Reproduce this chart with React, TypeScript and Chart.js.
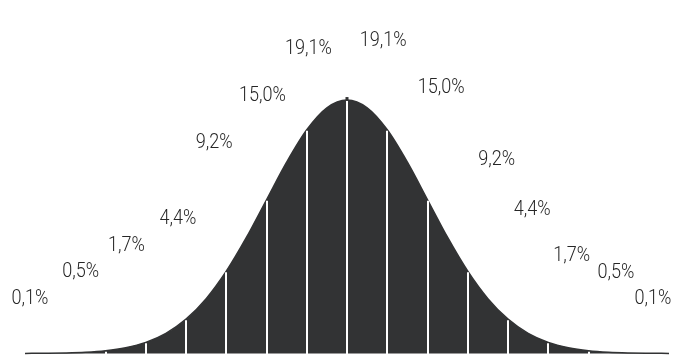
import React, { useEffect, useRef } from "react";
import { Chart, registerables } from "chart.js";

Chart.register(...registerables);

// Curve readings: position in standard deviations and curve height (density x100)
const sigmaPoints = [-4, -3.75, -3.5, -3.25, -3, -2.75, -2.5, -2.25, -2, -1.75, -1.5, -1.25, -1, -0.75, -0.5, -0.25, 0,
  0.25, 0.5, 0.75, 1, 1.25, 1.5, 1.75, 2, 2.25, 2.5, 2.75, 3, 3.25, 3.5, 3.75, 4];
const curveHeights = [0.01, 0.04, 0.09, 0.2, 0.44, 0.91, 1.75, 3.17, 5.4, 8.63, 12.95, 18.26, 24.2, 30.11, 35.21, 38.67, 39.89,
  38.67, 35.21, 30.11, 24.2, 18.26, 12.95, 8.63, 5.4, 3.17, 1.75, 0.91, 0.44, 0.2, 0.09, 0.04, 0.01];

// Band dividers (in standard deviations)
const dividerSigmas = [-3.5, -3, -2.5, -2, -1.5, -1, -0.5, 0, 0.5, 1, 1.5, 2, 2.5, 3, 3.5];

// Band share labels and their anchor points (sigma, height units)
const bandLabels = ["0,1%", "0,5%", "1,7%", "4,4%", "9,2%", "15,0%", "19,1%", "19,1%", "15,0%", "9,2%", "4,4%", "1,7%", "0,5%", "0,1%"];
const labelSigma = [-3.94, -3.31, -2.74, -2.1, -1.65, -1.05, -0.48, 0.45, 1.17, 1.86, 2.3, 2.79, 3.34, 3.8];
const labelHeight = [8.6, 12.9, 17.0, 21.2, 33.2, 40.6, 48.0, 49.3, 41.9, 30.5, 22.6, 15.4, 12.7, 8.6];

const FILL = "#323334";

export default function App() {
  const ref = useRef<HTMLCanvasElement>(null);

  useEffect(() => {
    if (!ref.current) return;
    const overlay = {
      id: "overlay",
      afterDatasetsDraw(chart: any) {
        const { ctx, scales } = chart;
        const xs = scales.x;
        const ys = scales.y;
        ctx.save();
        // white dividers
        ctx.strokeStyle = "#ffffff";
        ctx.lineWidth = 2;
        dividerSigmas.forEach((s) => {
          const idx = sigmaPoints.indexOf(s);
          const h = curveHeights[idx];
          const px = Math.round(xs.getPixelForValue(s));
          ctx.beginPath();
          ctx.moveTo(px, ys.getPixelForValue(-0.3));
          ctx.lineTo(px, ys.getPixelForValue(h) + 1);
          ctx.stroke();
        });
        // small cap at the peak
        const peakX = Math.round(xs.getPixelForValue(0));
        const peakY = ys.getPixelForValue(39.89);
        ctx.fillStyle = FILL;
        ctx.fillRect(peakX - 1.5, peakY - 3, 3, 3);
        // labels
        ctx.fillStyle = "#262626";
        ctx.font = "300 21px Roboto, 'Liberation Sans Narrow', sans-serif";
        ctx.textAlign = "center";
        ctx.textBaseline = "middle";
        bandLabels.forEach((t, i) => {
          const x = xs.getPixelForValue(labelSigma[i]);
          const y = ys.getPixelForValue(labelHeight[i]);
          ctx.save();
          ctx.translate(x, y);
          ctx.scale(0.86, 1);
          ctx.fillText(t, 0, 0);
          ctx.restore();
        });
        ctx.restore();
      },
    };
    const chart = new Chart(ref.current, {
      type: "line",
      data: {
        datasets: [
          {
            data: sigmaPoints.map((s, i) => ({ x: s, y: curveHeights[i] })),
            borderColor: FILL,
            backgroundColor: FILL,
            borderWidth: 1.5,
            fill: "origin",
            pointRadius: 0,
            cubicInterpolationMode: "monotone",
          },
        ],
      },
      options: {
        responsive: false,
        animation: false,
        devicePixelRatio: 1,
        layout: { padding: 0 },
        plugins: { legend: { display: false }, tooltip: { enabled: false } },
        scales: {
          x: { type: "linear", display: false, min: -4.311, max: 4.186 },
          y: { display: false, min: -0.24, max: 55.64 },
        },
      },
      plugins: [overlay],
    });
    return () => chart.destroy();
  }, []);

  return (
    <div style={{ position: "absolute", left: 0, top: 0, width: 684, height: 355, background: "#fff" }}>
      <canvas ref={ref} width={684} height={355} />
    </div>
  );
}
